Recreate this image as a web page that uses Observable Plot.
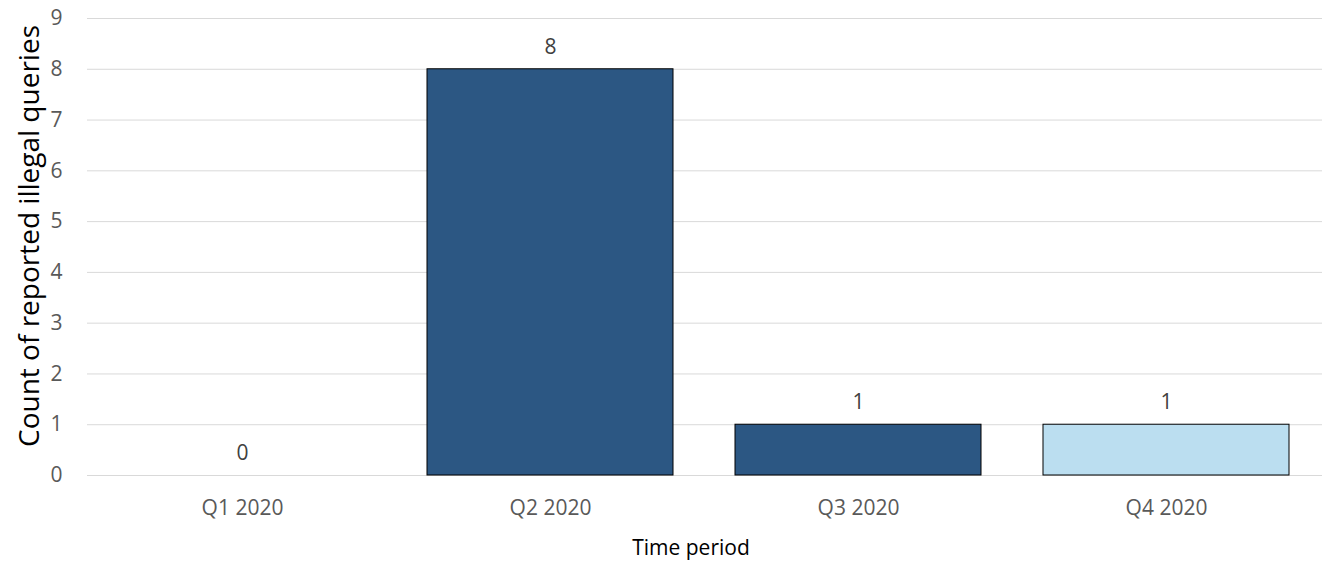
<!DOCTYPE html>
<html>
<head>
<meta charset="utf-8">
<script src="https://cdn.jsdelivr.net/npm/d3@7"></script>
<script src="https://cdn.jsdelivr.net/npm/@observablehq/plot@0.6"></script>
<style>
  html, body { margin: 0; padding: 0; background: #fff; }
  #chart { width: 1323px; height: 562px; }
</style>
</head>
<body>
<div id="chart"></div>
<script>
const periods = ["Q1 2020", "Q2 2020", "Q3 2020", "Q4 2020"];
const counts = [0, 8, 1, 1];
const barColors = ["#2C5783", "#2C5783", "#2C5783", "#BBDEF0"];
const yTicks = [0, 1, 2, 3, 4, 5, 6, 7, 8, 9];
const yTitle = "Count of reported illegal queries";
const xTitle = "Time period";

const data = periods.map((p, i) => ({period: p, count: counts[i], color: barColors[i]}));

const chart = Plot.plot({
  width: 1323,
  height: 562,
  marginLeft: 87,
  marginRight: 1,
  marginTop: 18,
  marginBottom: 87,
  style: {fontFamily: "'Open Sans', sans-serif", background: "#fff"},
  x: {domain: periods, paddingInner: 0.2, paddingOuter: 0.1, label: null},
  y: {domain: [0, 9], label: null},
  marks: [
    Plot.gridY(yTicks, {stroke: "#d9d9d9", strokeOpacity: 1, strokeWidth: 1}),
    Plot.barY(data, {x: "period", y: "count", fill: "color", stroke: "#000", strokeWidth: 1}),
    Plot.text(data, {x: "period", y: "count", text: d => String(d.count), dy: -22, fontSize: 21, fill: "#404040", lineAnchor: "middle"}),
    Plot.axisY(yTicks, {tickSize: 0, tickPadding: 25, fontSize: 21, color: "#595959", tickFormat: d => String(d), label: null}),
    Plot.axisX({tickSize: 0, tickPadding: 25, fontSize: 21, color: "#595959", label: null}),
    Plot.text([yTitle], {frameAnchor: "left", rotate: -90, dx: -57, dy: -11, fontSize: 28, fill: "#000", textAnchor: "middle", lineAnchor: "middle"}),
    Plot.text([xTitle], {frameAnchor: "bottom", dy: 73, dx: -14, fontSize: 21, fill: "#000", textAnchor: "middle", lineAnchor: "middle"})
  ]
});
document.getElementById("chart").appendChild(chart);
</script>
</body>
</html>
